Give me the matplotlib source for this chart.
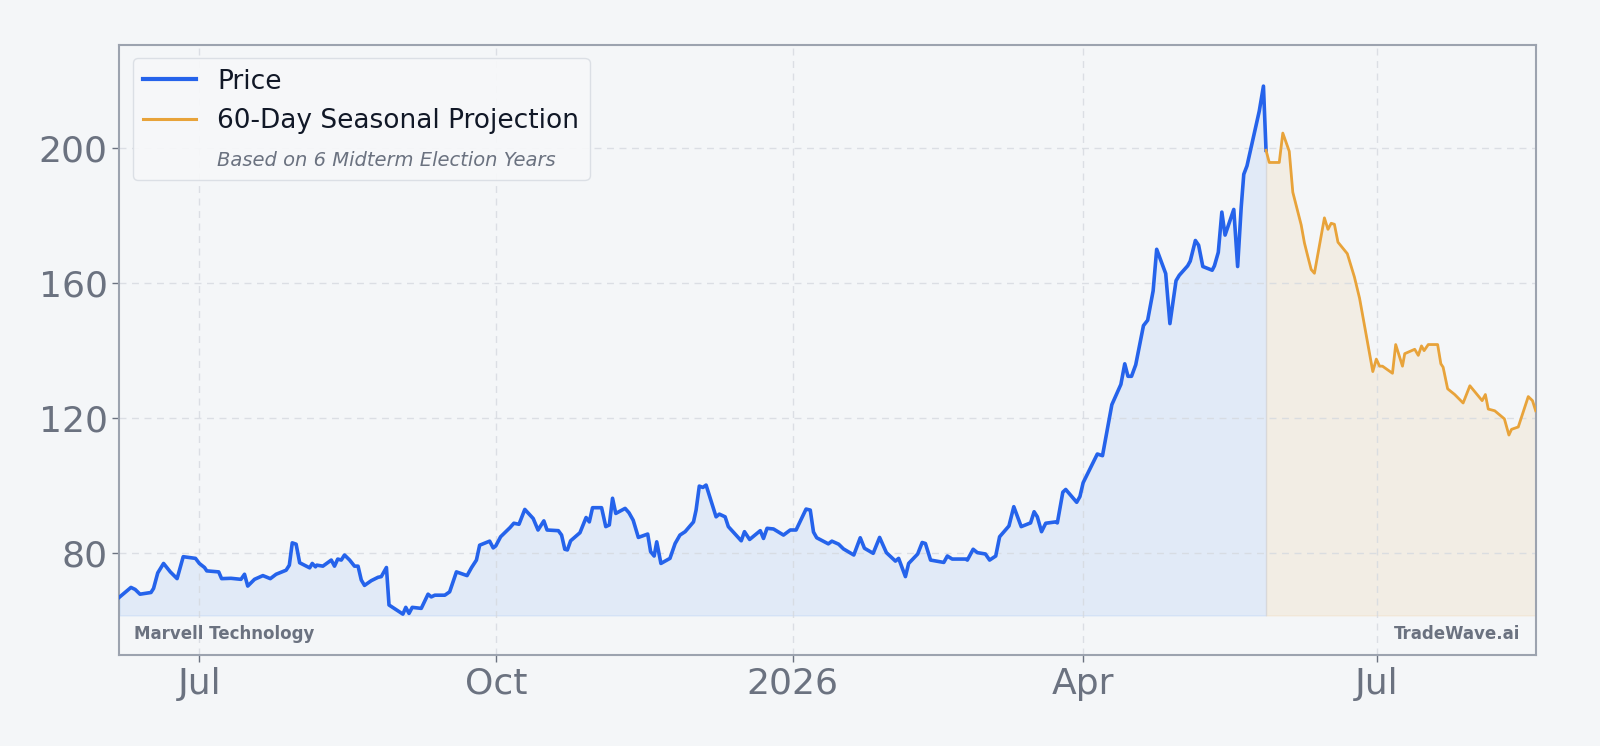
import numpy as np
import matplotlib
matplotlib.use("Agg")
import matplotlib.pyplot as plt
import matplotlib.dates as mdates
from matplotlib.lines import Line2D
from matplotlib.ticker import FuncFormatter

# ---------------- data ----------------
base_date = "2025-07-01"
# days since base_date
price_days = [-24.8, -21.2, -19.9, -18.4, -15.0, -14.2, -12.9, -11.1, -9.0, -6.9, -5.0, -1.2, 0.0, 1.6, 2.3,
              6.0, 6.9, 9.8, 12.9, 14.0, 15.0, 17.1, 19.7, 22.0, 23.8, 26.9, 27.9, 28.8, 30.0, 31.1, 34.2,
              35.0, 36.0, 36.4, 38.3, 40.9, 41.9, 42.9, 44.0, 45.0, 46.6, 48.1, 49.2, 50.2, 51.2, 53.3, 55.4,
              56.4, 58.0, 58.8, 63.1, 64.0, 65.0, 66.0, 68.8, 70.9, 71.9, 73.0, 76.1, 77.6, 79.7, 83.0, 84.4,
              85.9, 86.9, 90.0, 91.1, 91.9, 93.4, 96.3, 97.5, 99.1, 100.9, 103.5, 105.0, 106.8, 107.8, 111.3,
              112.3, 113.3, 114.1, 115.1, 118.0, 119.9, 120.9, 121.9, 124.7, 126.0, 127.1, 128.1, 129.1,
              132.0, 133.2, 134.5, 136.1, 139.0, 139.9, 141.0, 141.8, 143.1, 145.9, 147.5, 149.0, 150.6,
              153.2, 154.0, 155.0, 156.1, 157.1, 160.2, 161.2, 163.0, 164.0, 168.0, 169.0, 170.6, 173.9,
              174.9, 176.0, 178.0, 181.1, 183.2, 185.0, 188.1, 189.4, 190.4, 191.4, 195.0, 196.1, 198.2,
              199.7, 202.9, 204.9, 206.2, 208.9, 210.9, 213.0, 215.8, 216.8, 218.9, 219.9, 222.7, 224.1,
              225.1, 226.7, 230.8, 231.9, 233.4, 237.6, 238.1, 239.9, 241.2, 243.7, 245.0, 246.9, 248.1,
              251.0, 252.5, 254.8, 257.7, 258.8, 259.8, 261.1, 262.4, 265.5, 266.0, 267.7, 268.6, 272.0,
              273.0, 274.0, 278.4, 280.0, 282.9, 285.7, 286.9, 287.9, 289.0, 290.3, 292.7, 294.0, 295.7,
              296.8, 299.6, 300.9, 302.8, 303.8, 306.4, 307.2, 308.8, 309.8, 311.1, 314.0, 314.7, 315.9,
              317.0, 318.0, 320.7, 321.9, 323.0, 323.8, 324.8, 328.6, 329.9, 330.7]
price_vals = [66.9, 69.8, 69.2, 67.8, 68.3, 69.5, 74.1, 76.9, 74.4, 72.4, 78.9, 78.4, 76.9, 75.7, 74.7,
              74.4, 72.4, 72.5, 72.2, 73.7, 70.2, 72.2, 73.3, 72.4, 73.7, 74.9, 76.4, 83.0, 82.6, 77.1, 75.6,
              76.9, 75.9, 76.4, 76.1, 77.9, 76.1, 78.2, 77.9, 79.4, 77.9, 76.1, 76.1, 72.0, 70.4, 71.8, 72.8,
              73.0, 75.7, 64.6, 61.9, 63.9, 62.1, 63.9, 63.6, 67.8, 67.0, 67.5, 67.5, 68.5, 74.4, 73.3, 75.7,
              77.9, 82.3, 83.5, 81.5, 82.1, 84.8, 87.5, 88.8, 88.5, 92.9, 90.2, 86.8, 89.5, 86.8, 86.6,
              85.3, 81.1, 80.9, 83.6, 86.0, 90.5, 89.2, 93.4, 93.4, 87.8, 88.3, 96.2, 91.7,
              93.2, 91.9, 89.7, 84.6, 85.6, 80.4, 79.1, 83.3, 76.9, 78.4, 82.8, 85.3, 86.3,
              89.2, 92.7, 99.8, 99.4, 100.1, 90.7, 91.5, 90.7, 87.8, 83.6, 86.3, 84.0, 86.6,
              84.3, 87.3, 87.1, 85.3, 86.8, 86.8, 93.0, 92.7, 86.2, 84.5, 82.7, 83.5, 82.6,
              81.2, 79.4, 84.5, 81.4, 79.9, 84.6, 80.1, 77.6, 78.4, 73.0, 76.9, 79.7, 83.1,
              82.8, 77.9, 77.2, 79.1, 78.2, 78.2, 77.9, 81.1, 80.1, 79.7, 77.9, 79.1, 84.8,
              88.0, 93.7, 87.8, 88.9, 92.2, 90.7, 86.3, 88.8, 89.2, 88.9, 98.0, 98.8, 95.0,
              96.7, 100.8, 109.3, 108.8, 123.9, 129.9, 136.0, 132.3, 132.3, 135.7, 147.3, 148.9, 157.6,
              169.9, 162.7, 147.9, 160.6, 162.2, 165.0, 166.4, 172.5, 171.1, 164.8, 163.7, 165.0, 169.0,
              180.9, 174.1, 181.7, 164.8, 182.3, 192.1, 194.6, 210.8, 218.2, 199.2]

proj_days = [330.7, 331.7, 334.8, 335.9, 336.9, 337.9, 339.0, 341.6, 342.6, 343.7, 344.7, 345.7, 348.8,
             349.9, 350.9, 351.9, 353.0, 355.9, 358.1, 359.7, 361.8, 363.8, 364.9, 365.9, 366.8, 369.9,
             370.9, 373.0, 373.7, 376.8, 377.9, 378.9, 379.7, 381.0, 383.9, 384.9, 385.6, 387.0, 389.2,
             391.8, 393.9, 397.7, 398.7, 399.6, 401.6, 404.6, 406.0, 406.8, 408.9, 412.0, 413.3, 414.3]
proj_vals = [199.2, 195.6, 195.6, 204.3, 201.6, 198.9, 186.8, 177.1, 171.8, 167.6, 163.9, 162.8, 179.2,
             175.8, 177.6, 177.3, 172.0, 168.6, 161.7, 155.4, 144.3, 133.7, 137.4, 135.3, 135.3, 133.2,
             141.7, 135.3, 139.0, 140.3, 138.5, 141.3, 139.9, 141.7, 141.7, 136.0, 135.0, 128.6, 126.9,
             124.4, 129.5, 125.1, 126.9, 122.6, 122.1, 119.7, 114.9, 116.6, 117.3, 126.3, 125.1, 122.1]

y_ticks = [80, 120, 160, 200]
ticker_name = "Marvell Technology"
brand = "TradeWave.ai"
legend_labels = ["Price", "60-Day Seasonal Projection", "Based on 6 Midterm Election Years"]

# ---------------- style ----------------
BG = "#f4f6f8"
BLUE = "#2563eb"
BLUE_FILL = "#3b82f6"
ORANGE = "#e8a33a"
GREY = "#6b7280"
SPINE = "#9ca3af"

def to_dates(days):
    secs = (np.array(days) * 86400).round().astype("int64")
    return np.datetime64(base_date + "T00:00:00") + secs.astype("timedelta64[s]")

pd_x = to_dates(price_days)
pj_x = to_dates(proj_days)
pv = np.array(price_vals)
jv = np.array(proj_vals)

fig = plt.figure(figsize=(16, 7.46), dpi=100, facecolor=BG)
ax = fig.add_axes([0.0746, 0.122, 0.8852, 0.8178])
ax.set_facecolor(BG)

fill_base = 61.5
ax.fill_between(pd_x, pv, fill_base, color=BLUE_FILL, alpha=0.10, zorder=1)
ax.fill_between(pj_x, jv, fill_base, color=ORANGE, alpha=0.10, zorder=1)
ax.plot(pd_x, pv, color=BLUE, linewidth=2.6, zorder=3, solid_joinstyle="round")
ax.plot(pj_x, jv, color=ORANGE, linewidth=2.0, zorder=3, solid_joinstyle="round")

ax.set_xlim(pd_x[0], pj_x[-1])
ax.set_ylim(49.8, 230.4)
ax.set_yticks(y_ticks)

ax.xaxis.set_major_locator(mdates.MonthLocator(bymonth=[1, 4, 7, 10]))
def fmt(x, pos):
    d = mdates.num2date(x)
    return d.strftime("%Y") if d.month == 1 else d.strftime("%b")
ax.xaxis.set_major_formatter(FuncFormatter(fmt))

ax.grid(True, color="#d5d9df", linestyle=(0, (5, 4)), linewidth=1.0, alpha=0.8, zorder=0)
ax.tick_params(axis="both", labelsize=26, colors=GREY, length=5, width=1.0)
for s in ax.spines.values():
    s.set_color(SPINE)
    s.set_linewidth(1.5)

ax.text(0.0105, 0.035, ticker_name, transform=ax.transAxes, fontsize=12, fontweight="bold",
        color=GREY, ha="left", va="center", zorder=5)
ax.text(0.989, 0.035, brand, transform=ax.transAxes, fontsize=12, fontweight="bold",
        color=GREY, ha="right", va="center", zorder=5)

handles = [Line2D([], [], color=BLUE, linewidth=3.0),
           Line2D([], [], color=ORANGE, linewidth=2.2),
           Line2D([], [], color="none")]
leg = ax.legend(handles, legend_labels, loc="upper left", fontsize=19, frameon=True,
                facecolor="#f7f8fa", edgecolor="#d9dde3", framealpha=0.9, labelspacing=0.5)
leg.get_frame().set_linewidth(1.0)
for t in leg.get_texts()[:2]:
    t.set_color("#111827")
t3 = leg.get_texts()[2]
t3.set_fontsize(14)
t3.set_style("italic")
t3.set_color(GREY)

fig.savefig("out.png", dpi=100, facecolor=BG)
